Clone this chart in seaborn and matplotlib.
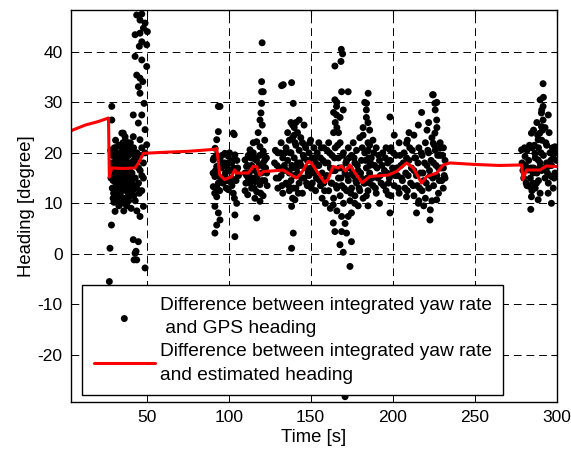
import numpy as np
import pandas as pd
import matplotlib
matplotlib.use('Agg')
import matplotlib.pyplot as plt
import seaborn as sns

# difference between integrated yaw rate and estimated heading (red line)
line_t = [4, 12.5, 20.5, 26.7, 27.2, 28.6, 35, 42.9, 45, 48,
          60, 75, 91.8, 92.7, 94.6, 97.6, 101.7, 103.7, 104.8, 111.9,
          115, 117, 119, 121.1, 126.2, 133.2, 141.4, 144.4, 148.5, 150.5,
          154.5, 158.6, 160.6, 163.7, 166.7, 168.8, 171.3, 173.9, 178, 181.4,
          186.1, 189.2, 197.3, 202.4, 208.5, 212.6, 217.7, 220.8, 226.9, 230.9,
          235, 250, 265, 278.7, 279.5, 281.7, 289.8, 293.9, 300]
line_y = [24.4, 25.5, 26.2, 26.9, 15.2, 17.0, 16.9, 17.0, 18.0, 19.9,
          20.1, 20.3, 20.7, 20.9, 15.6, 14.7, 15.3, 16.6, 16.0, 16.0,
          17.3, 17.3, 15.6, 16.3, 16.4, 16.6, 15.0, 16.0, 18.3, 18.0,
          16.0, 14.1, 14.7, 17.3, 17.0, 17.4, 16.4, 17.6, 15.6, 14.1,
          15.3, 15.4, 15.6, 16.3, 18.0, 17.0, 14.0, 15.3, 16.0, 17.6,
          18.0, 17.7, 17.5, 17.6, 14.7, 16.6, 16.6, 17.4, 17.3]

# difference between integrated yaw rate and GPS heading (dots), per segment
seg_a = [(47, 47.5), (43.9, 47.3), (45.9, 46.3), (49, 45.7), (48, 44.7), (50.4, 44.0),
         (42.9, 43.4), (45.9, 43.7), (47, 42.0), (50, 41.4), (45.5, 41.1), (42.9, 39.1),
         (47, 38.4), (50, 37.1), (43.9, 35.4), (45.9, 34.8), (47.6, 34.1), (44.9, 33.1),
         (45.9, 31.8), (48.4, 29.8), (41.8, 27.5), (47, 27.5), (44.9, 25.9), (49, 24.6),
         (35.7, 23.9), (41.8, 23.2), (45.9, 22.6), (50, 21.6), (28.7, 29.2), (28.7, 26.5),
         (34.8, 23.9), (36.8, 23.2),
         (28, 20.5), (28.5, 18), (29, 16), (29, 13), (29.5, 11), (30, 19.5), (30, 17.5),
         (30.5, 15), (30.5, 12.5), (31, 21), (31, 18.5), (31.5, 16.5), (31.5, 14), (32, 10.5),
         (32, 19.5), (32.5, 17), (32.5, 13.5), (33, 21.5), (33, 15.5), (33.5, 18.5), (33.5, 12),
         (34, 20), (34, 16.5), (34, 10), (34.5, 14), (35, 19), (35, 17.5), (35, 12.5),
         (35.5, 22), (35.5, 15.5), (36, 18.5), (36, 13.5), (36.5, 20.5), (36.5, 11), (37, 16.5),
         (37, 14.5), (37.5, 19), (37.5, 12.5), (38, 21.5), (38, 17.5), (38, 9.5), (38.5, 15),
         (39, 19.5), (39, 13), (39.5, 16.5), (40, 22), (40, 18), (40, 11.5), (40.5, 14.5),
         (41, 20), (41, 16), (41.5, 12.5), (42, 18.5), (42, 21), (43, 15), (43, 10.5),
         (44, 20), (44, 13), (45, 17), (46, 19.5), (47, 21), (47, 15.5), (48, 18), (49, 20),
         (29.5, 14.5), (31, 12), (33, 14), (36, 16), (39, 15), (41, 14), (37, 20), (34, 18),
         (28.5, 5.7), (30.7, 8.4), (27.6, 1.1), (27.2, -5.5), (45.9, 7.4), (48, 9.4),
         (41.8, 2.8), (44.9, 2.4), (42.9, 0.1), (43.9, -1.2), (49, -2.8), (43.5, 0.5),
         (42.3, -1.2), (33, 9.5), (36, 8.5), (40.5, 9), (44, 8.5),
         (28.2, 15), (28.8, 19.5), (29.3, 17), (29.8, 12), (30.2, 21), (30.8, 16), (31.2, 13.5),
         (31.8, 20), (32.2, 15), (32.8, 11.5), (33.2, 18), (33.8, 16), (34.2, 13), (34.8, 21),
         (35.2, 15), (35.8, 11), (36.2, 20), (36.8, 15), (37.2, 18), (37.8, 13.5), (38.2, 16),
         (38.8, 11.5), (39.2, 18), (39.8, 14), (40.2, 20.5), (40.8, 12.5), (41.2, 17.5),
         (41.8, 15), (42.2, 11.5), (42.8, 19.5), (30, 10.2), (32, 12.5), (34, 11.5), (36, 10),
         (39, 10.5), (42, 13.5), (31, 22.5), (37, 22.5), (39.5, 21), (43.5, 17.5), (45, 14),
         (44, 18.5), (46, 16.5), (48, 15), (45.5, 12), (47, 12.5)]

seg_b = [(93.7, 29.2), (93.7, 24.2), (92.7, 22.6), (91.7, 20.9), (90.6, 18.6), (92.7, 17.3),
         (94.7, 18.6), (91.6, 15.3), (93.7, 14.0), (90.6, 13.3), (92.7, 11.3), (91.6, 9.4),
         (93.7, 8.1), (94.7, 6.7), (92.7, 5.7), (91.6, 4.1),
         (102.8, 23.9), (103.4, 23.6), (97.7, 19.9), (99.8, 19.3), (103.8, 19.6), (98.8, 17.3),
         (101.8, 18.0), (104.9, 16.6), (97.7, 15.3), (100.8, 14.3), (103.8, 14.7), (99.8, 12.7),
         (102.8, 12.0), (104.9, 10.0), (103.8, 7.7), (103.8, 3.4),
         (120.1, 34.1), (121.1, 32.1), (120.1, 29.8), (119.7, 27.9), (119.1, 26.5), (120.5, 25.5),
         (120.4, 41.8), (117.1, 22.2), (119.1, 21.2), (121.1, 20.3), (112, 19.3), (115, 18.9),
         (110.9, 17.3), (114, 16.6), (118, 16.0), (121.1, 17.3), (112, 15.0), (116, 14.3),
         (119.1, 13.7), (114, 13.0), (117.1, 12.3), (111.6, 11.7), (119.1, 10.4), (117.1, 7.1),
         (122.1, 18.6), (110, 18.6), (113, 20.6), (110, 16.0), (123.2, 16.0),
         (91, 19), (92, 16.5), (93, 13), (94, 17.5), (95, 15), (96, 19.5), (98, 16),
         (99, 14.5), (100, 18), (101, 16.5), (102, 13.5), (103, 17), (105, 18.5), (106, 15.5),
         (111, 15.5), (112, 19.5), (113, 14), (114, 17.5), (115, 20), (116, 16.5), (117, 18.5),
         (118, 14.5), (119, 19.5), (120, 16), (121, 18), (122, 14.5), (123, 19), (94.7, 29.2),
         (90.5, 16), (91.5, 12), (92.5, 19.5), (93.5, 15.5), (94.5, 12.5), (95.5, 17), (96.5, 14),
         (97.5, 18), (98.5, 13), (99.5, 16.5), (100.5, 20), (101.5, 15), (102.5, 18.5),
         (103.5, 11), (104.5, 14.5), (105.5, 17), (110.5, 14), (111.5, 17.5), (112.5, 16),
         (113.5, 19), (114.5, 15), (115.5, 13), (116.5, 19), (117.5, 15.5), (118.5, 17.5),
         (119.5, 12), (120.5, 14.5), (121.5, 19.5), (122.5, 17), (123.5, 13.5), (110, 12.5),
         (116, 11), (121, 11.5), (115, 22), (118, 24), (122, 22.5)]

seg_c = [(133.3, 33.5), (138.4, 33.9), (139.4, 29.8), (132.3, 33.3), (120.1, 32.1),
         (164.8, 37.2), (168.5, 38.1), (168.7, 40.5), (169.5, 39.6), (164.8, 30.5), (168.9, 32.1),
         (172.9, 32.1), (165.8, 29.2), (169.9, 28.5), (165.8, 27.5), (185.1, 31.8), (184.1, 29.8),
         (139.4, 4.1), (138.4, 1.1), (163.8, 6.1), (164.8, 4.4), (168.9, 4.4), (167.9, 1.8),
         (169.9, 0.3), (174, -2.5), (174.9, 2.4), (171.9, 4.1), (163.8, 9.7), (168.9, 7.4),
         (172.9, 7.4), (174.9, 8.1), (176.9, 10.0), (138.4, 9.4), (140.4, 10.7), (171, -28.3),
         (128, 18), (129, 15), (130, 20), (130, 13), (131, 17), (132, 22), (132, 15.5),
         (133, 19), (133, 12), (134, 17.5), (135, 21), (135, 14), (136, 24), (136, 18.5),
         (137, 16), (137, 12.5), (138, 26), (138, 20), (138, 14.5), (139, 23), (139, 17),
         (139, 11), (140, 25), (140, 19), (140, 15.5), (141, 21.5), (141, 13), (142, 24),
         (142, 18), (142, 16), (143, 20.5), (143, 14), (144, 17.5), (145, 22), (145, 12),
         (146, 19), (146, 15), (147, 21), (147, 17), (148, 18.5), (148, 13.5), (149, 20),
         (149, 15.5), (150, 22.5), (150, 17), (151, 19), (151, 14), (152, 21), (152, 16),
         (153, 18), (153, 12.5), (154, 20), (154, 15), (155, 17.5), (155, 22), (156, 13.5),
         (156, 19), (157, 16), (157, 11), (158, 21), (158, 14), (159, 18), (159, 10),
         (160, 20.5), (160, 15.5), (161, 12.5), (161, 22), (162, 17), (162, 9), (163, 19.5),
         (163, 14), (164, 24), (164, 11), (165, 16.5), (165, 21), (166, 13), (166, 8.5),
         (167, 19), (167, 15), (168, 22), (168, 11.5), (169, 17), (169, 13.5), (170, 20),
         (170, 10), (171, 16), (171, 6), (172, 18.5), (172, 12.5), (173, 14.5), (173, 21),
         (174, 10.5), (174, 17), (175, 13), (175, 19.5), (176, 15.5), (176, 22), (177, 11.5),
         (177, 18), (178, 14), (178, 20.5), (179, 16.5), (179, 9.5), (180, 23), (180, 12.5),
         (181, 18.5), (181, 15), (182, 25), (182, 11), (183, 20), (183, 14), (184, 27),
         (184, 17), (185, 22), (185, 12.5),
         (183, 30), (184, 28.5), (185, 26), (182, 23.5), (186, 24.5), (185, 20.5), (186, 17.5),
         (186, 14), (184, 11.5), (185, 9.5), (164, 28), (165, 26), (166, 25), (167, 24),
         (168, 27), (166, 30), (144, 23), (146, 25.5), (143, 26.5),
         (128.5, 20.5), (129.5, 17.5), (130.5, 15), (131.5, 20), (132.5, 13.5), (133.5, 16.5),
         (134.5, 20), (135.5, 16.5), (136.5, 13.5), (137.5, 20), (138.5, 17.5), (139.5, 13),
         (140.5, 22), (141.5, 17), (142.5, 12), (143.5, 18), (144.5, 15), (145.5, 19.5),
         (146.5, 21.5), (147.5, 14), (148.5, 16), (149.5, 22), (150.5, 13), (151.5, 16.5),
         (152.5, 19), (153.5, 15), (154.5, 17.5), (155.5, 14.5), (156.5, 21), (157.5, 18.5),
         (158.5, 12.5), (159.5, 15), (160.5, 18), (161.5, 20), (162.5, 14), (163.5, 16.5),
         (164.5, 19), (165.5, 13.5), (166.5, 21.5), (167.5, 17), (168.5, 15), (169.5, 19.5),
         (170.5, 13), (171.5, 18), (172.5, 15.5), (173.5, 19), (174.5, 12), (175.5, 16),
         (176.5, 19), (177.5, 14.5), (178.5, 17.5), (179.5, 13), (180.5, 16), (181.5, 21),
         (182.5, 14), (183.5, 18.5), (184.5, 15), (185.5, 19), (140, 23.5), (141, 26),
         (139, 25.5), (137, 22.5)]

seg_d = [(224.8, 31.5), (225.8, 29.8), (217.7, 28.0), (215.7, 25.5), (198.4, 27.1), (208.5, 21.9),
         (198.4, 20.6), (226.9, 26.5), (225.8, 23.9), (224.8, 21.9), (228.8, 20.9),
         (198.4, 8.1), (214.6, 8.1), (222.8, 6.7), (215.7, 10.0), (208.5, 11.3), (197.3, 11.7),
         (230.9, 13.0), (226.9, 10.7), (223, 8.7), (224.4, 31.5),
         (186, 16), (187, 19), (188, 13.5), (189, 17.5), (190, 21), (190, 12), (191, 15),
         (192, 18.5), (193, 14), (194, 20), (195, 16.5), (196, 12.5), (197, 18), (198, 15),
         (199, 21), (199, 11.5), (200, 17), (201, 13.5), (202, 19.5), (203, 15.5), (204, 22),
         (204, 12), (205, 17.5), (206, 14.5), (207, 20), (208, 16), (209, 12.5), (209, 22.5),
         (210, 18.5), (211, 14), (212, 20.5), (213, 16.5), (213, 11.5), (214, 19), (215, 13.5),
         (216, 21), (216, 10.5), (217, 16), (218, 12.5), (218, 19.5), (219, 14.5), (220, 22),
         (220, 11), (221, 17.5), (222, 13), (222, 20), (223, 15.5), (224, 23), (224, 10.5),
         (225, 18), (225, 13.5), (226, 20.5), (227, 15.5), (227, 25), (228, 17), (228, 12),
         (229, 22), (229, 19.5), (230, 14.5), (231, 17), (231, 21), (232, 18.5), (232, 15),
         (186, 21.5), (188, 22.5), (192, 10), (196, 21), (201, 23.5), (210, 24), (213, 23.5),
         (219, 9.5), (226, 28.5), (227, 30), (222, 26), (221, 24.5),
         (186.5, 18), (187.5, 15), (188.5, 20), (189.5, 13), (190.5, 17), (191.5, 19.5),
         (192.5, 15.5), (193.5, 17.5), (194.5, 13.5), (195.5, 19), (196.5, 16), (197.5, 14),
         (198.5, 18.5), (199.5, 16), (200.5, 20), (201.5, 15.5), (202.5, 17), (203.5, 13),
         (204.5, 19.5), (205.5, 15), (206.5, 18), (207.5, 13), (208.5, 19), (209.5, 15.5),
         (210.5, 21), (211.5, 17), (212.5, 13.5), (213.5, 19), (214.5, 15.5), (215.5, 18),
         (216.5, 13), (217.5, 20), (218.5, 16), (219.5, 18), (220.5, 14), (221.5, 20.5),
         (222.5, 16.5), (223.5, 18.5), (224.5, 15), (225.5, 21.5), (226.5, 17.5), (227.5, 19.5),
         (228.5, 14.5), (229.5, 17), (230.5, 19.5), (231.5, 15.5)]

seg_e = [(291.8, 33.7), (291.8, 29.2), (290.8, 27.9), (291.8, 26.5), (290.8, 25.2), (289.8, 23.9),
         (284.7, 23.9), (288.8, 22.6), (278.7, 20.6), (299, 21.2), (280.8, 19.3), (286.8, 19.9),
         (288.8, 18.6), (282.7, 16.6), (285.7, 16.0), (283.7, 13.3), (287.8, 14.0), (284.7, 11.3),
         (288.8, 10.7), (294.9, 12.0), (284.3, 8.8), (296.9, 10.0), (296.9, 15.3), (294.9, 17.3),
         (279, 18), (280, 15), (281, 17.5), (282, 20.5), (282, 13.5), (283, 18.5), (284, 15),
         (285, 21), (285, 12.5), (286, 17), (286, 24.5), (287, 19), (287, 13), (288, 16),
         (288, 26), (289, 21), (289, 14.5), (290, 18), (290, 12), (291, 22.5), (291, 16.5),
         (292, 19.5), (292, 31), (293, 25), (293, 15), (294, 21.5), (294, 18), (295, 27.5),
         (295, 14), (296, 20), (297, 17.5), (298, 13), (298, 19), (299, 16), (300, 18.5),
         (300, 15.5), (290, 30.5), (291, 28.5),
         (279.5, 16.5), (280.5, 21), (281.5, 14), (282.5, 17), (283.5, 21.5), (284.5, 17),
         (285.5, 14), (286.5, 21.5), (287.5, 16.5), (288.5, 23.5), (289.5, 17), (290.5, 20),
         (291.5, 24.5), (292.5, 17), (293.5, 22), (294.5, 16), (295.5, 24), (296.5, 18.5),
         (297.5, 21), (298.5, 15), (299.5, 20)]

gps = pd.DataFrame(seg_a + seg_b + seg_c + seg_d + seg_e, columns=['t', 'diff'])
est = pd.DataFrame({'t': line_t, 'diff': line_y})

sns.set_style('white')
plt.rcParams['font.family'] = ['Liberation Sans', 'DejaVu Sans']
plt.rcParams['text.color'] = 'black'
plt.rcParams['axes.labelcolor'] = 'black'
plt.rcParams['xtick.color'] = 'black'
plt.rcParams['ytick.color'] = 'black'
plt.rcParams['axes.unicode_minus'] = False

fig = plt.figure(figsize=(5.71, 4.53), dpi=100)
ax = fig.add_axes([0.1243, 0.1132, 0.8512, 0.8648])

sns.scatterplot(data=gps, x='t', y='diff', ax=ax, color='black', s=25,
                edgecolor='none', label='Difference between integrated yaw rate\n and GPS heading')
sns.lineplot(data=est, x='t', y='diff', ax=ax, color='#ff0000', lw=2.2,
             label='Difference between integrated yaw rate\nand estimated heading')

ax.set_xlim(3.8, 300.3)
ax.set_ylim(-29.3, 48.3)
ax.set_xticks([50, 100, 150, 200, 250, 300])
ax.set_yticks([-20, -10, 0, 10, 20, 30, 40])
ax.grid(True, color='black', ls=(0, (8, 5)), lw=0.7)
ax.tick_params(direction='in', top=True, right=True, length=4, labelsize=12.5,
               colors='black', pad=6)
for sp in ax.spines.values():
    sp.set_color('black')
    sp.set_linewidth(1.0)
ax.set_xlabel('Time [s]', fontsize=13.3, labelpad=3)
ax.set_ylabel('Heading [degree]', fontsize=13.3, labelpad=2)

leg = ax.legend(loc='lower left', bbox_to_anchor=(0.023, 0.017), borderaxespad=0,
                fontsize=13.8, handlelength=3.2, handletextpad=0.25, frameon=True,
                fancybox=False, edgecolor='black', framealpha=1, labelspacing=0.3,
                borderpad=0.6, markerscale=1.0)
leg.get_frame().set_linewidth(1.0)
for txt in leg.get_texts():
    txt.set_linespacing(1.5)

fig.savefig('out.png', dpi=100)
